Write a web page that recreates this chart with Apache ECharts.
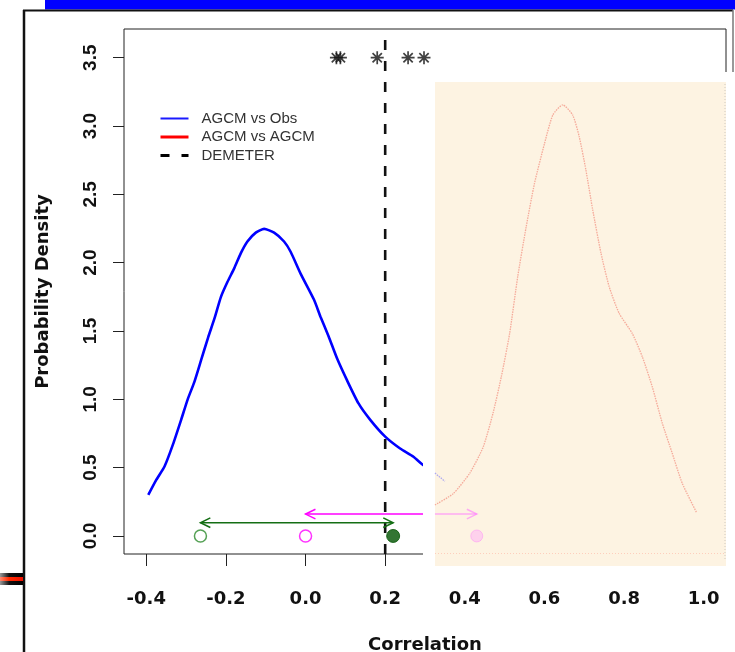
<!DOCTYPE html>
<html><head><meta charset="utf-8">
<script src="https://cdn.jsdelivr.net/npm/echarts@6/dist/echarts.min.js"></script>
<style>html,body{margin:0;padding:0;background:#fff;overflow:hidden}#c{width:735px;height:652px}</style>
</head><body><div id="c"></div>
<script>
// ---- axis ticks ----
const xTicks = [-0.4, -0.2, 0.0, 0.2, 0.4, 0.6, 0.8, 1.0];
const yTicks = [0.0, 0.5, 1.0, 1.5, 2.0, 2.5, 3.0, 3.5];
const xRange = [-0.456, 1.056];
const yRange = [-0.132, 3.71];

// ---- AGCM vs Obs density (blue) ----
const obsCorr = [-0.395,-0.375,-0.354,-0.333,-0.3125,-0.296,-0.279,-0.262,-0.245,-0.229,-0.2125,-0.196,-0.179,-0.1625,-0.146,-0.125,-0.104,-0.079,-0.054,-0.0375,-0.0125,0.021,0.0375,0.058,0.079,0.104,0.133,0.1625,0.2,0.2375,0.271,0.292,0.325,0.35];
const obsDensity = [0.30,0.41,0.51,0.67,0.85,1.00,1.13,1.29,1.45,1.59,1.75,1.86,1.96,2.07,2.155,2.22,2.247,2.22,2.155,2.08,1.92,1.73,1.605,1.46,1.30,1.14,0.97,0.85,0.727,0.64,0.58,0.527,0.46,0.40];
// faded part of the blue curve seen through the overlaid picture
const obsFadedCorr = [0.325, 0.35];
const obsFadedDensity = [0.46, 0.40];

// ---- AGCM vs AGCM density (red, faded) ----
const agcmCorr = [0.325,0.371,0.4125,0.446,0.471,0.492,0.5125,0.533,0.554,0.575,0.6,0.621,0.646,0.671,0.6875,0.704,0.721,0.742,0.7625,0.7875,0.821,0.846,0.871,0.896,0.921,0.946,0.983];
const agcmDensity = [0.227,0.31,0.46,0.65,0.90,1.17,1.48,1.90,2.26,2.58,2.87,3.08,3.155,3.08,2.92,2.68,2.39,2.07,1.825,1.63,1.48,1.31,1.09,0.825,0.605,0.386,0.166];

// ---- DEMETER ----
const demeterCorr = 0.2;

// ---- significance stars ----
const starCorr = [0.0775, 0.0875, 0.18, 0.2575, 0.2975];
const starLevel = 3.5;

// ---- points on the axis ----
const openGreenCorr = -0.264;
const openMagentaCorr = 0.0;
const filledGreenCorr = 0.22;
const fadedPinkCorr = 0.43;

// ---- arrows [from, to, height, leftHead, rightHead] ----
const greenArrow = [-0.264, 0.22, 0.097, 1, 1];
const magentaArrow = [0.0, 0.43, 0.16, 1, 1];
const magentaArrowFaded = [0.325, 0.43, 0.16, 0, 1];

const zip = (a, b) => a.map((v, i) => [v, b[i]]);

function arrowItem(params, api) {
  const y = api.value(2);
  const p1 = api.coord([api.value(0), y]);
  const p2 = api.coord([api.value(1), y]);
  const color = api.visual('color');
  const L = 11, a = 26 * Math.PI / 180;
  const dx = L * Math.cos(a), dy = L * Math.sin(a);
  const st = {stroke: color, lineWidth: 1.5, fill: null};
  const ch = [{type: 'line', shape: {x1: p1[0], y1: p1[1], x2: p2[0], y2: p2[1]}, style: st}];
  if (api.value(3)) ch.push({type: 'polyline', shape: {points: [[p1[0] + dx, p1[1] - dy], [p1[0], p1[1]], [p1[0] + dx, p1[1] + dy]]}, style: st});
  if (api.value(4)) ch.push({type: 'polyline', shape: {points: [[p2[0] - dx, p2[1] - dy], [p2[0], p2[1]], [p2[0] - dx, p2[1] + dy]]}, style: st});
  return {type: 'group', children: ch};
}

const starPath = 'path://M0,-6L0,6M-6,0L6,0M-4.3,-4.3L4.3,4.3M-4.3,4.3L4.3,-4.3';
const boldFont = 'DejaVu Sans';

const chart = echarts.init(document.getElementById('c'), null, {renderer: 'canvas'});
chart.setOption({
  animation: false,
  backgroundColor: '#ffffff',
  grid: {left: 124, top: 29, width: 602, height: 525, show: true, borderColor: '#222', borderWidth: 1, backgroundColor: 'transparent', containLabel: false, outerBoundsMode: 'none'},
  xAxis: {
    type: 'value', min: xRange[0], max: xRange[1],
    splitLine: {show: false}, axisLine: {show: false, onZero: false},
    axisTick: {show: true, customValues: xTicks, length: 12, lineStyle: {color: '#222', width: 1}},
    axisLabel: {customValues: xTicks, formatter: v => v.toFixed(1), margin: 36, color: '#111', fontFamily: boldFont, fontWeight: 'bold', fontSize: 18},
    name: 'Correlation', nameLocation: 'middle', nameGap: 82,
    nameTextStyle: {color: '#111', fontFamily: boldFont, fontWeight: 'bold', fontSize: 18}
  },
  yAxis: {
    type: 'value', min: yRange[0], max: yRange[1],
    splitLine: {show: false}, axisLine: {show: false, onZero: false},
    axisTick: {show: true, customValues: yTicks, length: 11, lineStyle: {color: '#222', width: 1}},
    axisLabel: {customValues: yTicks, formatter: v => v.toFixed(1), rotate: 90, margin: 24, color: '#111', fontFamily: 'Liberation Sans', fontWeight: 'bold', fontSize: 19},
    name: 'Probability Density', nameLocation: 'middle', nameGap: 72,
    nameTextStyle: {color: '#111', fontFamily: boldFont, fontWeight: 'bold', fontSize: 18}
  },
  legend: {
    orient: 'vertical', left: 159, top: 111, padding: 0,
    itemWidth: 28, itemHeight: 14, itemGap: 3.5, selectedMode: false,
    itemStyle: {opacity: 0},
    textStyle: {fontFamily: 'Liberation Sans', fontSize: 15, color: '#333', padding: [0, 0, 0, 8], lineHeight: 14},
    data: [
      {name: 'AGCM vs Obs', lineStyle: {color: '#1a1aff', width: 2, type: 'solid', opacity: 1}},
      {name: 'AGCM vs AGCM', lineStyle: {color: '#ff0000', width: 3, type: 'solid', opacity: 1}},
      {name: 'DEMETER', lineStyle: {color: '#000000', width: 3, type: [9, 12], opacity: 1}}
    ]
  },
  graphic: [
    {type: 'rect', shape: {x: 45, y: 0, width: 690, height: 9.5}, style: {fill: '#0000ff'}, z: 1},
    {type: 'line', shape: {x1: 23, y1: 10.5, x2: 733, y2: 10.5}, style: {stroke: '#111', lineWidth: 2}, z: 1},
    {type: 'line', shape: {x1: 24, y1: 10, x2: 24, y2: 652}, style: {stroke: '#111', lineWidth: 2.5}, z: 1},
    {type: 'line', shape: {x1: 733, y1: 10, x2: 733, y2: 72}, style: {stroke: '#777', lineWidth: 1.5}, z: 1},
    {type: 'rect', shape: {x: 0, y: 573, width: 23, height: 12}, style: {fill: new echarts.graphic.LinearGradient(0, 0, 1, 0, [{offset: 0, color: '#999'}, {offset: 0.4, color: '#111'}, {offset: 1, color: '#000'}])}, z: 1},
    {type: 'rect', shape: {x: 0, y: 577, width: 23, height: 4}, style: {fill: new echarts.graphic.LinearGradient(0, 0, 1, 0, [{offset: 0, color: '#ff8a70'}, {offset: 0.4, color: '#ff2a00'}, {offset: 1, color: '#ee1100'}])}, z: 1},
    // overlaid faded picture
    {type: 'rect', shape: {x: 423, y: 72, width: 312, height: 494}, style: {fill: '#ffffff'}, z: 100},
    {type: 'rect', shape: {x: 435, y: 82, width: 291, height: 484}, style: {fill: '#fdf3e2'}, z: 101},
    {type: 'line', shape: {x1: 725, y1: 84, x2: 725, y2: 560}, style: {stroke: 'rgba(150,150,150,0.45)', lineWidth: 1, lineDash: [1, 2]}, z: 102},
    {type: 'line', shape: {x1: 435, y1: 553.5, x2: 726, y2: 553.5}, style: {stroke: 'rgba(255,170,150,0.5)', lineWidth: 1, lineDash: [1, 2]}, z: 102}
  ],
  series: [
    {name: 'AGCM vs Obs', type: 'line', data: zip(obsCorr, obsDensity), symbol: 'none', smooth: 0.2, z: 5,
     lineStyle: {color: '#0000ff', width: 2.6}, itemStyle: {color: '#0000ff'}},
    {name: 'AGCM vs AGCM', type: 'line', data: zip(agcmCorr, agcmDensity), symbol: 'none', smooth: 0.2, z: 110,
     lineStyle: {color: 'rgba(240,120,105,0.6)', width: 1.3, type: [1.5, 1]}, itemStyle: {color: '#ff0000'}},
    {name: 'DEMETER', type: 'line', data: [[demeterCorr, yRange[0]], [demeterCorr, yRange[1]]], symbol: 'none', z: 6,
     lineStyle: {color: '#111', width: 2.6, type: [10, 11]}, itemStyle: {color: '#111'}},
    {name: 'stars', type: 'scatter', data: starCorr.map(v => [v, starLevel]), symbol: starPath, symbolSize: 13, z: 7,
     itemStyle: {color: '#111', borderColor: '#111', borderWidth: 1.7}},
    {name: 'open green', type: 'scatter', data: [[openGreenCorr, 0]], symbol: 'circle', symbolSize: 12, z: 7,
     itemStyle: {color: '#fff', borderColor: '#2a8a2a', borderWidth: 1.5}},
    {name: 'open magenta', type: 'scatter', data: [[openMagentaCorr, 0]], symbol: 'circle', symbolSize: 12, z: 7,
     itemStyle: {color: '#fff', borderColor: '#ff00ff', borderWidth: 1.5}},
    {name: 'filled green', type: 'scatter', data: [[filledGreenCorr, 0]], symbol: 'circle', symbolSize: 13, z: 7,
     itemStyle: {color: '#005200', borderColor: '#005200', borderWidth: 1}},
    {name: 'green arrow', type: 'custom', renderItem: arrowItem, data: [greenArrow], z: 8, itemStyle: {color: '#146e14'}},
    {name: 'magenta arrow', type: 'custom', renderItem: arrowItem, data: [magentaArrow], z: 8, itemStyle: {color: '#ff00ff'}},
    // faded elements seen in the overlaid picture
    {name: 'obs faded', type: 'line', data: zip(obsFadedCorr, obsFadedDensity), symbol: 'none', z: 110,
     lineStyle: {color: 'rgba(110,110,255,0.55)', width: 1.3, type: [1.5, 1]}},
    {name: 'magenta faded', type: 'custom', renderItem: arrowItem, data: [magentaArrowFaded], z: 110, itemStyle: {color: 'rgba(255,120,255,0.6)'}},
    {name: 'pink faded', type: 'scatter', data: [[fadedPinkCorr, 0]], symbol: 'circle', symbolSize: 12, z: 110,
     itemStyle: {color: 'rgba(255,150,255,0.45)', borderColor: 'rgba(255,100,255,0.4)', borderWidth: 1}}
  ]
});
</script></body></html>
